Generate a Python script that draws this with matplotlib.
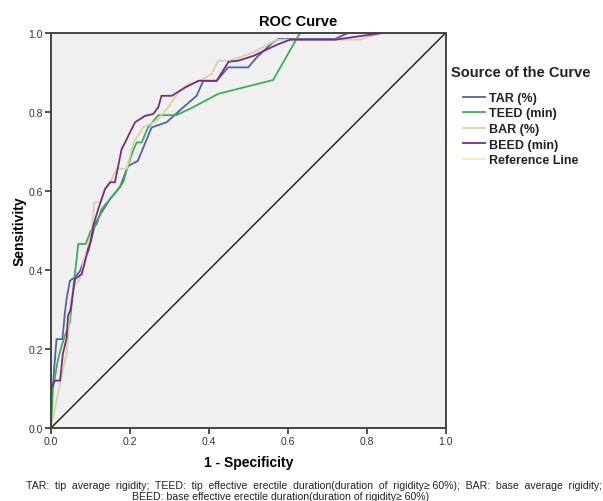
import matplotlib
matplotlib.use("Agg")
import matplotlib.pyplot as plt
from matplotlib.lines import Line2D

plt.rcParams['font.family'] = ['Liberation Sans', 'DejaVu Sans']

# ---- data ----
tar_x = [0, 0, 0.005, 0.008, 0.014, 0.029, 0.035, 0.04, 0.048, 0.061, 0.074, 0.086, 0.095, 0.112,
         0.128, 0.15, 0.175, 0.195, 0.22, 0.255, 0.293, 0.331, 0.369, 0.386, 0.42, 0.449, 0.50,
         0.521, 0.563, 0.576, 0.72, 0.753, 1.0]
tar_y = [0, 0.09, 0.104, 0.15, 0.225, 0.225, 0.29, 0.33, 0.373, 0.382, 0.398, 0.432, 0.449, 0.516,
         0.546, 0.58, 0.61, 0.663, 0.676, 0.761, 0.774, 0.808, 0.841, 0.879, 0.879, 0.913, 0.913,
         0.938, 0.977, 0.985, 0.985, 1.0, 1.0]

teed_x = [0, 0.005, 0.018, 0.027, 0.035, 0.048, 0.052, 0.058, 0.065, 0.069, 0.088, 0.101, 0.116,
          0.128, 0.15, 0.17, 0.183, 0.195, 0.208, 0.217, 0.23, 0.246, 0.272, 0.318, 0.36, 0.424,
          0.563, 0.631, 1.0]
teed_y = [0, 0.1, 0.175, 0.208, 0.233, 0.268, 0.31, 0.37, 0.428, 0.466, 0.466, 0.5, 0.516,
          0.554, 0.58, 0.605, 0.622, 0.664, 0.702, 0.723, 0.723, 0.761, 0.792, 0.792, 0.812, 0.846,
          0.881, 1.0, 1.0]

bar_x = [0, 0.01, 0.018, 0.04, 0.049, 0.061, 0.069, 0.078, 0.082, 0.09, 0.103, 0.11, 0.124, 0.137,
         0.154, 0.166, 0.192, 0.209, 0.234, 0.268, 0.297, 0.323, 0.348, 0.378, 0.407, 0.424, 0.454,
         0.513, 0.572, 0.783, 0.84, 1.0]
bar_y = [0, 0.048, 0.09, 0.192, 0.318, 0.364, 0.37, 0.39, 0.424, 0.445, 0.496, 0.572, 0.572, 0.605,
         0.63, 0.656, 0.656, 0.723, 0.761, 0.778, 0.812, 0.85, 0.871, 0.879, 0.896, 0.93, 0.93,
         0.951, 0.983, 0.983, 1.0, 1.0]

beed_x = [0, 0, 0.01, 0.023, 0.03, 0.035, 0.04, 0.043, 0.05, 0.056, 0.061, 0.078, 0.086, 0.094,
          0.10, 0.107, 0.12, 0.137, 0.15, 0.162, 0.179, 0.188, 0.196, 0.213, 0.238, 0.259, 0.272,
          0.28, 0.306, 0.34, 0.374, 0.42, 0.45, 0.475, 0.513, 0.572, 0.606, 0.72, 0.84, 1.0]
beed_y = [0, 0.1, 0.12, 0.12, 0.187, 0.208, 0.23, 0.284, 0.30, 0.344, 0.377, 0.39, 0.42, 0.453,
          0.47, 0.512, 0.555, 0.605, 0.622, 0.622, 0.706, 0.723, 0.74, 0.774, 0.79, 0.795, 0.812,
          0.841, 0.841, 0.862, 0.879, 0.879, 0.927, 0.93, 0.942, 0.97, 0.983, 0.983, 1.0, 1.0]

ref_x = [0, 1]
ref_y = [0, 1]

labels = ["TAR (%)", "TEED (min)", "BAR (%)", "BEED (min)", "Reference Line"]
colors = ["#4f63a8", "#3fae52", "#d8d2a6", "#7b2c7e", "#f2f0a8"]
ticks = [0.0, 0.2, 0.4, 0.6, 0.8, 1.0]
tick_labels = ["0.0", "0.2", "0.4", "0.6", "0.8", "1.0"]

footnote1 = ("TAR:  tip  average  rigidity;  TEED:  tip  effective  erectile  duration(duration  of  "
             "rigidity\u2265 60%);  BAR:  base  average  rigidity;")
footnote2 = "BEED: base effective erectile duration(duration of rigidity\u2265 60%)"

# ---- figure ----
fig = plt.figure(figsize=(6.03, 5.02), dpi=100)
ax = fig.add_axes([51/603, 1 - 429/502, 394.5/603, 395/502])
ax.set_facecolor("#f0f0f0")

series = [(tar_x, tar_y), (teed_x, teed_y), (bar_x, bar_y), (beed_x, beed_y)]
for (xs, ys), c in zip(series, colors[:4]):
    ax.plot(xs, ys, color=c, lw=1.3, solid_joinstyle="miter")
ax.plot(ref_x, ref_y, color="#1a1a1a", lw=1.0)

ax.set_xlim(0, 1)
ax.set_ylim(0, 1)
ax.set_xticks(ticks)
ax.set_xticklabels(tick_labels)
ax.set_yticks(ticks)
ax.set_yticklabels(tick_labels)
ax.tick_params(direction="out", length=4, width=1.2, colors="#333333", labelsize=7.5, pad=2)
for s in ax.spines.values():
    s.set_color("#444444")
    s.set_linewidth(1.4)

ax.set_xlabel("1 - Specificity", fontsize=10, fontweight="bold", labelpad=6)
ax.set_ylabel("Sensitivity", fontsize=10, fontweight="bold", labelpad=1.5)
fig.text(298/603, 1 - 22/502, "ROC Curve", ha="center", va="center", fontsize=10.5, fontweight="bold")

fig.text(451/603, 1 - 73/502, "Source of the Curve", ha="left", va="center",
         fontsize=10.5, fontweight="bold", color="#222222")
handles = [Line2D([], [], color=c, lw=1.3) for c in colors]
leg = ax.legend(handles, labels, loc="upper left", bbox_to_anchor=(463/603, 1 - 93/502),
                bbox_transform=fig.transFigure, frameon=False,
                prop={"size": 9, "weight": "bold"}, handlelength=1.8,
                handletextpad=0.25, labelspacing=0.28, borderaxespad=0, borderpad=0)
for t in leg.get_texts():
    t.set_color("#222222")

fig.text(602/603, 1 - 486/502, footnote1, ha="right", va="center", fontsize=7.6, color="#222222")
fig.text(281/603, 1 - 497/502, footnote2, ha="center", va="center", fontsize=7.6, color="#222222")

fig.savefig("out.png", dpi=100, facecolor="white")
